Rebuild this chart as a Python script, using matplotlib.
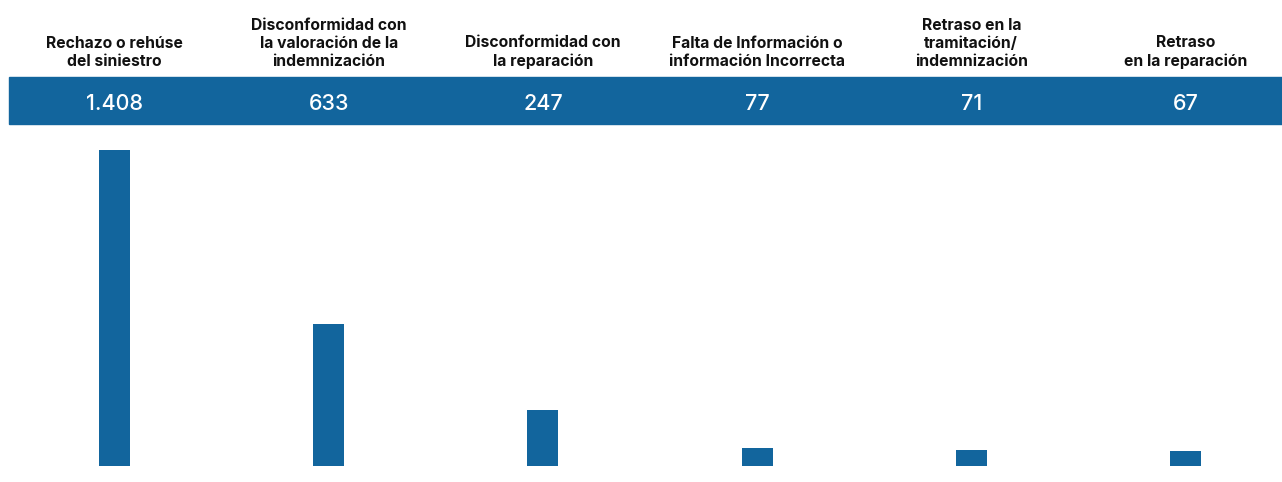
import matplotlib
matplotlib.use("Agg")
import matplotlib.pyplot as plt
from matplotlib.patches import Rectangle
import matplotlib.transforms as mtransforms

categorias = [
    "Rechazo o rehúse\ndel siniestro",
    "Disconformidad con\nla valoración de la\nindemnización",
    "Disconformidad con\nla reparación",
    "Falta de Información o\ninformación Incorrecta",
    "Retraso en la\ntramitación/\nindemnización",
    "Retraso\nen la reparación",
]
valores = [1408, 633, 247, 77, 71, 67]
etiquetas = ["1.408", "633", "247", "77", "71", "67"]

azul = "#12659d"
W, H = 1282, 482

fig = plt.figure(figsize=(W / 100, H / 100), dpi=100)

# eje de barras, en pixeles de la figura
ax = fig.add_axes([0, (H - 465.7) / H, 1, (465.7 - 150) / H])
paso = 214.2
ax.set_xlim(-114.5 / paso, (W - 114.5) / paso)
ax.set_ylim(0, max(valores))
x = list(range(len(valores)))
ax.bar(x, valores, width=31 / paso, color=azul)
ax.axis("off")

# banda azul con los valores
fig.patches.append(Rectangle((9 / W, (H - 124.3) / H), 1 - 9 / W, 47 / H,
                             transform=fig.transFigure, color=azul, zorder=-1))

trans = mtransforms.blended_transform_factory(ax.transData, fig.transFigure)
for i, (cat, et) in enumerate(zip(categorias, etiquetas)):
    ax.text(i, (H - 110) / H, et, transform=trans, ha="center", va="baseline",
            color="white", fontsize=15.5, fontweight="medium", family="Inter",
            clip_on=False)
    ax.text(i, (H - 66) / H, cat, transform=trans, ha="center", va="baseline",
            color="#111111", fontsize=11.3, fontweight="bold", family="Inter",
            linespacing=1.27, multialignment="center", clip_on=False)

fig.savefig("out.png", dpi=100)
